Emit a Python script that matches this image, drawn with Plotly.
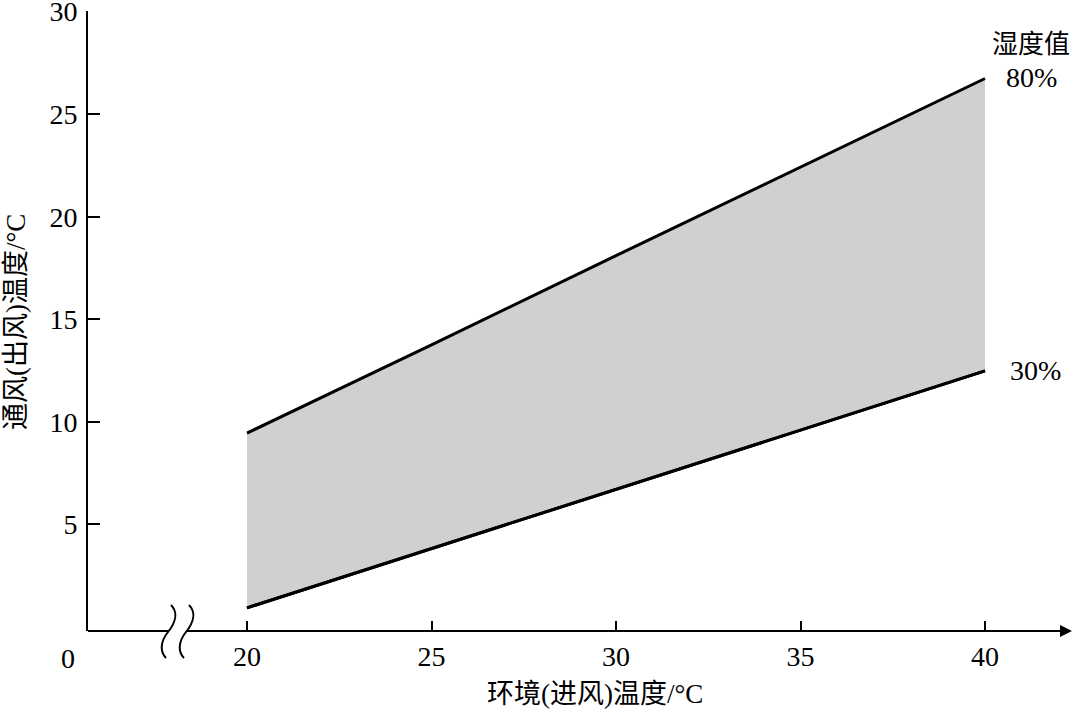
import plotly.graph_objects as go

# data
x_vals = [20, 25, 30, 35, 40]
rh80 = [9.45, 13.75, 18.1, 22.4, 26.74]
rh30 = [0.93, 3.82, 6.7, 9.6, 12.48]
x_ticks = [20, 25, 30, 35, 40]
y_ticks = [5, 10, 15, 20, 25, 30]

W, H = 1079, 713
L, R, T, B = 88, 9, 11, 82
PW, PH = W - L - R, H - T - B

def px(x):
    return (x - L) / PW

def py(y):
    return (H - B - y) / PH

SERIF = "Liberation Serif, Noto Sans CJK SC, serif"

fig = go.Figure()
fig.add_trace(go.Scatter(x=x_vals, y=rh30, mode="lines",
                         line=dict(color="black", width=3), showlegend=False,
                         hoverinfo="skip"))
fig.add_trace(go.Scatter(x=x_vals, y=rh80, mode="lines",
                         line=dict(color="black", width=3), showlegend=False,
                         fill="tonexty", fillcolor="#d0d0d0", hoverinfo="skip"))
fig.add_trace(go.Scatter(x=x_vals, y=rh30, mode="lines",
                         line=dict(color="black", width=3), showlegend=False,
                         hoverinfo="skip"))

unit = (985 - 247) / 20.0
x0 = 20 - (247 - L) / unit
x1 = 40 + (L + PW - 985) / unit

fig.update_layout(
    width=W, height=H,
    margin=dict(l=L, r=R, t=T, b=B, autoexpand=False),
    plot_bgcolor="white", paper_bgcolor="white",
    xaxis=dict(range=[x0, x1], tickvals=x_ticks, ticks="inside", ticklen=10,
               tickwidth=2, tickcolor="black", showgrid=False, zeroline=False,
               showline=False, tickfont=dict(family=SERIF, size=28, color="black"),
               ticklabelstandoff=6, ticklabeloverflow="allow", automargin=False),
    yaxis=dict(range=[-0.2, 30.03], tickvals=y_ticks, ticks="inside", ticklen=12,
               tickwidth=2, tickcolor="black", showgrid=False, zeroline=False,
               showline=True, linecolor="black", linewidth=2,
               tickfont=dict(family=SERIF, size=28, color="black"),
               ticklabelstandoff=3, ticklabeloverflow="allow", automargin=False),
)

shapes = []
shapes.append(dict(type="line", xref="paper", yref="paper", x0=px(88), x1=px(168),
                   y0=py(631), y1=py(631), line=dict(color="black", width=2)))
shapes.append(dict(type="line", xref="paper", yref="paper", x0=px(187), x1=px(1056),
                   y0=py(631), y1=py(631), line=dict(color="black", width=2)))

def wave(pts):
    p = "M %f,%f" % (px(pts[0][0]), py(pts[0][1]))
    p += " C %f,%f %f,%f %f,%f" % (px(pts[1][0]), py(pts[1][1]), px(pts[2][0]), py(pts[2][1]), px(pts[3][0]), py(pts[3][1]))
    p += " C %f,%f %f,%f %f,%f" % (px(pts[4][0]), py(pts[4][1]), px(pts[5][0]), py(pts[5][1]), px(pts[6][0]), py(pts[6][1]))
    return p

shapes.append(dict(type="path", xref="paper", yref="paper",
                   path=wave([(171, 605), (178, 612), (176, 622), (168, 632),
                              (160, 642), (160, 652), (166, 658)]),
                   line=dict(color="black", width=2)))
shapes.append(dict(type="path", xref="paper", yref="paper",
                   path=wave([(189, 605), (196, 612), (194, 622), (186, 632),
                              (178, 642), (178, 652), (184, 658)]),
                   line=dict(color="black", width=2)))
fig.update_layout(shapes=shapes)

def text_ann(xp, yp, text, size=28, angle=0):
    return dict(xref="paper", yref="paper", x=px(xp), y=py(yp), text=text,
                xanchor="center", yanchor="middle", textangle=angle,
                showarrow=False, font=dict(family=SERIF, size=size, color="black"))

anns = []
anns.append(dict(xref="paper", yref="paper", x=px(1072), y=py(631), ax=-24, ay=0,
                 text="", showarrow=True, arrowhead=2, arrowsize=1.2, arrowwidth=2,
                 arrowcolor="black"))
anns.append(text_ann(68, 658, "0"))
anns.append(text_ann(1031, 45, "湿度值", 26))
anns.append(text_ann(1031, 78, "80%"))
anns.append(text_ann(1035, 370, "30%"))
anns.append(text_ann(595, 694, "环境(进风)温度/°C", 27))
anns.append(text_ann(16, 322, "通风(出风)温度/°C", 27, -90))
fig.update_layout(annotations=anns)

fig.write_html("out.html", config={"displayModeBar": False},
               post_script="document.body.style.margin='0';document.body.style.padding='0';")
